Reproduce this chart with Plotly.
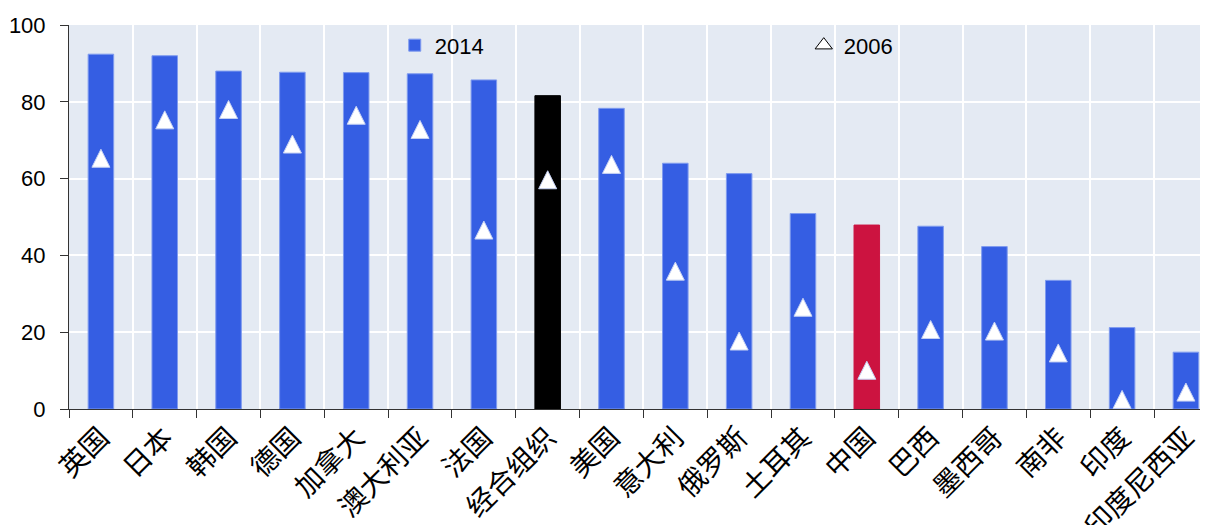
import plotly.graph_objects as go

categories = ["英国", "日本", "韩国", "德国", "加拿大", "澳大利亚", "法国", "经合组织", "美国",
              "意大利", "俄罗斯", "土耳其", "中国", "巴西", "墨西哥", "南非", "印度", "印度尼西亚"]
values_2014 = [92.4, 92.0, 88.0, 87.7, 87.6, 87.3, 85.7, 81.6, 78.3,
               64.0, 61.3, 50.9, 47.9, 47.6, 42.3, 33.5, 21.2, 14.8]
values_2006 = [65.3, 75.3, 78.0, 69.0, 76.5, 72.8, 46.6, 59.7, 63.7,
               35.9, 17.7, 26.5, 10.1, 20.7, 20.3, 14.6, 2.5, 4.4]
y_ticks = [0, 20, 40, 60, 80, 100]

BLUE = "#355EE3"
BLACK = "#000000"
RED = "#CC1340"
special = {"经合组织": BLACK, "中国": RED}
bar_colors = [special.get(c, BLUE) for c in categories]
edge_colors = ["#7F9BEF" if c == BLUE else c for c in bar_colors]

NUM_FONT = "Liberation Sans, Arial, sans-serif"

fig = go.Figure()
fig.add_trace(go.Bar(
    x=categories, y=values_2014, name="2014",
    marker=dict(color=bar_colors, line=dict(color=edge_colors, width=1)),
    width=0.4, showlegend=True, legendwidth=364,
))
fig.add_trace(go.Scatter(
    x=categories, y=values_2006, mode="markers", name="2006",
    marker=dict(symbol="arrow-down", angle=180, standoff=9, size=18,
                color="white", line=dict(color="#C5D1F3", width=1)),
    showlegend=False, cliponaxis=True,
))
# legend-only entry for 2006 (outlined triangle)
fig.add_trace(go.Scatter(
    x=[None], y=[None], mode="markers", name="2006",
    marker=dict(symbol="triangle-up", size=15, color="white",
                line=dict(color="black", width=1)),
    showlegend=True, legendwidth=60,
))

fig.update_layout(
    width=1208, height=525,
    margin=dict(l=61, r=8, t=17, b=124),
    paper_bgcolor="white", plot_bgcolor="#E4EAF3",
    font=dict(family=NUM_FONT, size=22, color="black"),
    bargap=0.6,
    legend=dict(orientation="h", x=0.286, y=0.947, xanchor="left", yanchor="middle",
                bgcolor="rgba(0,0,0,0)", entrywidthmode="pixels",
                font=dict(family=NUM_FONT, size=22), traceorder="normal", itemclick=False),
)
fig.update_xaxes(
    type="category", range=[-0.5, 17.346], tickson="boundaries",
    showgrid=True, gridcolor="white", gridwidth=1.5,
    ticks="outside", ticklen=8, tickcolor="#333", tickwidth=1,
    showline=True, linecolor="#333", linewidth=1,
    tickangle=-45, automargin=False,
    tickfont=dict(family="Noto Sans CJK SC", size=28, color="black"),
)
fig.update_yaxes(
    range=[0, 100], tickvals=y_ticks, showgrid=True, gridcolor="white", gridwidth=1.5,
    ticks="outside", ticklen=8, tickcolor="#333", tickwidth=1,
    showline=True, linecolor="#333", linewidth=1, zeroline=False,
    ticklabelstandoff=10, automargin=False,
    tickfont=dict(family=NUM_FONT, size=22, color="black"),
)

fig.write_html("out.html")
